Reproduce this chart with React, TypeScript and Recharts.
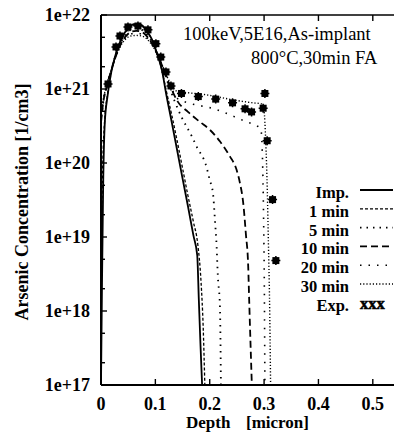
import React from "react";
import { LineChart, Line, XAxis, YAxis } from "recharts";

type Pt = { d: number; c: number };

// depth [micron] vs arsenic concentration [1/cm3]
const imp: Pt[] = [
  { d: 0.0, c: 1.0e17 }, { d: 0.002, c: 3.0e18 }, { d: 0.004, c: 5.0e19 },
  { d: 0.007, c: 3.5e20 }, { d: 0.012, c: 8.0e20 }, { d: 0.019, c: 1.7e21 },
  { d: 0.025, c: 2.6e21 }, { d: 0.031, c: 3.6e21 }, { d: 0.04, c: 5.2e21 },
  { d: 0.05, c: 6.6e21 }, { d: 0.06, c: 7.5e21 }, { d: 0.068, c: 7.6e21 },
  { d: 0.076, c: 7.2e21 }, { d: 0.085, c: 6.0e21 }, { d: 0.093, c: 4.8e21 },
  { d: 0.1, c: 3.5e21 }, { d: 0.106, c: 2.6e21 }, { d: 0.112, c: 1.8e21 },
  { d: 0.12, c: 8.5e20 }, { d: 0.13, c: 3.6e20 }, { d: 0.14, c: 1.5e20 },
  { d: 0.15, c: 6.2e19 }, { d: 0.16, c: 2.6e19 }, { d: 0.17, c: 1.05e19 },
  { d: 0.177, c: 5.7e18 }, { d: 0.18, c: 1.4e18 }, { d: 0.183, c: 3.5e17 },
  { d: 0.186, c: 1.0e17 },
];

const min1: Pt[] = [
  { d: 0.0, c: 2.0e18 }, { d: 0.003, c: 8.0e19 }, { d: 0.007, c: 4.0e20 },
  { d: 0.012, c: 8.5e20 }, { d: 0.019, c: 1.7e21 }, { d: 0.025, c: 2.6e21 },
  { d: 0.031, c: 3.6e21 }, { d: 0.04, c: 5.2e21 }, { d: 0.05, c: 6.5e21 },
  { d: 0.06, c: 7.3e21 }, { d: 0.068, c: 7.4e21 }, { d: 0.076, c: 7.0e21 },
  { d: 0.085, c: 5.9e21 }, { d: 0.093, c: 4.7e21 }, { d: 0.1, c: 3.5e21 },
  { d: 0.106, c: 2.6e21 }, { d: 0.112, c: 1.8e21 }, { d: 0.12, c: 9.5e20 },
  { d: 0.13, c: 4.5e20 }, { d: 0.14, c: 2.0e20 }, { d: 0.15, c: 8.5e19 },
  { d: 0.16, c: 3.6e19 }, { d: 0.17, c: 1.6e19 }, { d: 0.178, c: 8.0e18 },
  { d: 0.184, c: 2.5e18 }, { d: 0.188, c: 6.0e17 }, { d: 0.191, c: 1.0e17 },
];

const min5: Pt[] = [
  { d: 0.0, c: 3.5e20 }, { d: 0.004, c: 6.5e20 }, { d: 0.01, c: 1.05e21 },
  { d: 0.018, c: 1.7e21 }, { d: 0.026, c: 2.7e21 }, { d: 0.035, c: 4.0e21 },
  { d: 0.045, c: 5.4e21 }, { d: 0.055, c: 6.3e21 }, { d: 0.065, c: 6.6e21 },
  { d: 0.075, c: 6.3e21 }, { d: 0.085, c: 5.4e21 }, { d: 0.095, c: 4.1e21 },
  { d: 0.105, c: 2.8e21 }, { d: 0.115, c: 1.8e21 }, { d: 0.125, c: 1.1e21 },
  { d: 0.135, c: 7.0e20 }, { d: 0.148, c: 4.2e20 }, { d: 0.167, c: 2.3e20 },
  { d: 0.176, c: 1.66e20 }, { d: 0.194, c: 8.9e19 }, { d: 0.2, c: 5.9e19 },
  { d: 0.206, c: 3.9e19 }, { d: 0.2096, c: 1.7e19 }, { d: 0.2127, c: 7.4e18 },
  { d: 0.215, c: 2.9e18 }, { d: 0.2188, c: 1.15e18 }, { d: 0.2206, c: 1.0e17 },
];

const min10: Pt[] = [
  { d: 0.0, c: 3.5e20 }, { d: 0.004, c: 6.5e20 }, { d: 0.01, c: 1.05e21 },
  { d: 0.018, c: 1.7e21 }, { d: 0.026, c: 2.6e21 }, { d: 0.035, c: 3.9e21 },
  { d: 0.045, c: 5.1e21 }, { d: 0.055, c: 5.9e21 }, { d: 0.065, c: 6.1e21 },
  { d: 0.075, c: 5.9e21 }, { d: 0.085, c: 5.1e21 }, { d: 0.095, c: 4.0e21 },
  { d: 0.105, c: 2.8e21 }, { d: 0.115, c: 1.85e21 }, { d: 0.125, c: 1.2e21 },
  { d: 0.1415, c: 6.7e20 }, { d: 0.16, c: 4.9e20 }, { d: 0.182, c: 3.6e20 },
  { d: 0.2004, c: 2.8e20 }, { d: 0.219, c: 1.95e20 }, { d: 0.237, c: 1.23e20 },
  { d: 0.2494, c: 8.1e19 }, { d: 0.2555, c: 5.4e19 }, { d: 0.2616, c: 2.9e19 },
  { d: 0.2665, c: 1.1e19 }, { d: 0.2708, c: 4.0e18 }, { d: 0.2726, c: 1.4e18 },
  { d: 0.2775, c: 1.0e17 },
];

const min20: Pt[] = [
  { d: 0.0, c: 3.8e20 }, { d: 0.004, c: 6.8e20 }, { d: 0.01, c: 1.05e21 },
  { d: 0.018, c: 1.7e21 }, { d: 0.026, c: 2.6e21 }, { d: 0.035, c: 3.8e21 },
  { d: 0.045, c: 4.9e21 }, { d: 0.055, c: 5.5e21 }, { d: 0.065, c: 5.7e21 },
  { d: 0.075, c: 5.5e21 }, { d: 0.085, c: 4.9e21 }, { d: 0.095, c: 3.9e21 },
  { d: 0.105, c: 2.8e21 }, { d: 0.115, c: 1.9e21 }, { d: 0.125, c: 1.25e21 },
  { d: 0.14, c: 7.5e20 }, { d: 0.16, c: 6.5e20 }, { d: 0.18, c: 6.0e20 },
  { d: 0.2, c: 5.6e20 }, { d: 0.224, c: 4.9e20 }, { d: 0.246, c: 4.2e20 },
  { d: 0.268, c: 3.6e20 }, { d: 0.286, c: 3.2e20 }, { d: 0.294, c: 2.9e20 },
  { d: 0.297, c: 1.2e20 }, { d: 0.299, c: 2.0e19 }, { d: 0.3005, c: 2.0e18 },
  { d: 0.3015, c: 1.0e17 },
];

const min30: Pt[] = [
  { d: 0.0, c: 4.0e20 }, { d: 0.004, c: 7.0e20 }, { d: 0.01, c: 1.1e21 },
  { d: 0.018, c: 1.7e21 }, { d: 0.026, c: 2.6e21 }, { d: 0.035, c: 3.7e21 },
  { d: 0.045, c: 4.7e21 }, { d: 0.055, c: 5.2e21 }, { d: 0.065, c: 5.3e21 },
  { d: 0.075, c: 5.2e21 }, { d: 0.085, c: 4.7e21 }, { d: 0.095, c: 3.8e21 },
  { d: 0.105, c: 2.8e21 }, { d: 0.115, c: 1.9e21 }, { d: 0.125, c: 1.3e21 },
  { d: 0.14, c: 9.3e20 }, { d: 0.16, c: 8.9e20 }, { d: 0.18, c: 8.6e20 },
  { d: 0.2, c: 8.2e20 }, { d: 0.22, c: 7.7e20 }, { d: 0.24, c: 7.2e20 },
  { d: 0.26, c: 6.8e20 }, { d: 0.28, c: 6.5e20 }, { d: 0.295, c: 6.3e20 },
  { d: 0.3, c: 5.0e20 }, { d: 0.303, c: 2.0e20 }, { d: 0.306, c: 4.0e19 },
  { d: 0.308, c: 8.0e18 }, { d: 0.31, c: 1.5e18 }, { d: 0.312, c: 1.0e17 },
];

const expPts: Pt[] = [
  { d: 0.0129, c: 1.17e21 }, { d: 0.0276, c: 3.7e21 }, { d: 0.0349, c: 5.2e21 },
  { d: 0.0496, c: 6.9e21 }, { d: 0.068, c: 7.1e21 }, { d: 0.0864, c: 6.3e21 },
  { d: 0.101, c: 4.1e21 }, { d: 0.11, c: 2.7e21 }, { d: 0.1195, c: 1.7e21 },
  { d: 0.1287, c: 1.1e21 }, { d: 0.148, c: 8.7e20 }, { d: 0.179, c: 7.9e20 },
  { d: 0.211, c: 7.3e20 }, { d: 0.242, c: 6.5e20 }, { d: 0.265, c: 5.4e20 },
  { d: 0.277, c: 4.9e20 }, { d: 0.2983, c: 5.5e20 }, { d: 0.3015, c: 8.7e20 },
  { d: 0.3057, c: 2.0e20 }, { d: 0.3156, c: 3.2e19 }, { d: 0.3217, c: 4.8e18 },
];

const xTicks = [0, 0.1, 0.2, 0.3, 0.4, 0.5];
const topTicks = [0.1, 0.2, 0.3, 0.4, 0.5];
const yTicks = [
  1e17, 2e17, 5e17, 1e18, 2e18, 5e18, 1e19, 2e19, 5e19,
  1e20, 2e20, 5e20, 1e21, 2e21, 5e21, 1e22,
];

const series = [
  { name: "Imp.", data: imp, dash: undefined as string | undefined, w: 1.8 },
  { name: "1 min", data: min1, dash: "3 2", w: 1.3 },
  { name: "5 min", data: min5, dash: "1.5 5", w: 1.8 },
  { name: "10 min", data: min10, dash: "7 4", w: 1.8 },
  { name: "20 min", data: min20, dash: "1.5 7", w: 1.6 },
  { name: "30 min", data: min30, dash: "1.2 2", w: 1.4 },
];

const FONT = "'Liberation Serif', 'Times New Roman', serif";

const LeftTick = (p: any) => {
  const { x, y, payload } = p;
  const v = payload.value as number;
  const e = Math.round(Math.log10(v));
  const major = Math.abs(v / Math.pow(10, e) - 1) < 1e-6;
  return (
    <g>
      <line x1={x} y1={y} x2={x + (major ? 6 : 4)} y2={y} stroke="#000" strokeWidth={1.4} />
      {major && (
        <text x={x - 11} y={y + 6} textAnchor="end" fontFamily={FONT} fontWeight="bold" fontSize={18} fill="#000">
          {`1e+${e}`}
        </text>
      )}
    </g>
  );
};

const BottomTick = (p: any) => {
  const { x, y, payload } = p;
  return (
    <g>
      <line x1={x} y1={y} x2={x} y2={y - 6} stroke="#000" strokeWidth={1.4} />
      <text x={x} y={y + 25} textAnchor="middle" fontFamily={FONT} fontWeight="bold" fontSize={18} fill="#000">
        {String(payload.value)}
      </text>
    </g>
  );
};

const TopTick = (p: any) => {
  const { x, y } = p;
  return <line x1={x} y1={y} x2={x} y2={y + 6} stroke="#000" strokeWidth={1.4} />;
};

const ExpDot = (p: any) => {
  const { cx, cy, index } = p;
  if (cx == null || cy == null) return <g key={`e${index}`} />;
  return (
    <g key={`e${index}`}>
      <rect x={cx - 3.5} y={cy - 3.5} width={7} height={7} fill="#000" />
      <path
        d={`M${cx - 4.5} ${cy}H${cx + 4.5}M${cx} ${cy - 4.5}V${cy + 4.5}`}
        stroke="#000"
        strokeWidth={1.5}
      />
    </g>
  );
};

export default function App() {
  const legendTop = 198;
  const legendStep = 18.8;
  return (
    <div style={{ position: "absolute", left: 0, top: 0, width: 394, height: 438, background: "#fff", overflow: "hidden" }}>
      <LineChart width={394} height={438} margin={{ top: 0, right: 0, bottom: 0, left: 0 }}>
        <XAxis
          dataKey="d"
          type="number"
          domain={[0, 0.539]}
          ticks={xTicks}
          allowDataOverflow
          height={53}
          tickSize={0}
          tickMargin={0}
          tick={BottomTick}
          axisLine={{ stroke: "#000", strokeWidth: 2 }}
          tickLine={false}
        />
        <XAxis
          xAxisId="top"
          orientation="top"
          dataKey="d"
          type="number"
          domain={[0, 0.539]}
          ticks={topTicks}
          allowDataOverflow
          height={15}
          tickSize={0}
          tickMargin={0}
          tick={TopTick}
          axisLine={{ stroke: "#000", strokeWidth: 1.5 }}
          tickLine={false}
        />
        <YAxis
          dataKey="c"
          scale="log"
          domain={[1e17, 1e22]}
          ticks={yTicks}
          allowDataOverflow
          width={101}
          tickSize={0}
          tickMargin={0}
          tick={LeftTick}
          axisLine={{ stroke: "#000", strokeWidth: 2 }}
          tickLine={false}
          interval={0}
        />
        {series.map((s) => (
          <Line
            key={s.name}
            data={s.data}
            dataKey="c"
            type="monotone"
            stroke="#000"
            strokeWidth={s.w}
            strokeDasharray={s.dash}
            dot={false}
            activeDot={false}
            isAnimationActive={false}
          />
        ))}
        <Line
          data={expPts}
          dataKey="c"
          stroke="none"
          dot={ExpDot}
          activeDot={false}
          isAnimationActive={false}
        />
      </LineChart>
      <svg width={394} height={438} style={{ position: "absolute", left: 0, top: 0, pointerEvents: "none" }}>
        <g fontFamily={FONT} fill="#000">
          <text x={183} y={40} fontSize={18.5}>100keV,5E16,As-implant</text>
          <text x={251} y={64} fontSize={18.5}>800°C,30min FA</text>
          <text x={186} y={428} fontSize={17} fontWeight="bold">Depth</text>
          <text x={246} y={428} fontSize={17} fontWeight="bold">[micron]</text>
          <text
            x={28}
            y={202}
            fontSize={18}
            fontWeight="bold"
            textAnchor="middle"
            transform="rotate(-90 28 202)"
          >
            Arsenic Concentration [1/cm3]
          </text>
          {series.map((s, i) => {
            const by = legendTop + i * legendStep;
            return (
              <g key={s.name}>
                <text x={349} y={by} textAnchor="end" fontSize={16.5} fontWeight="bold">{s.name}</text>
                <line x1={360} y1={by - 8} x2={393} y2={by - 8} stroke="#000" strokeWidth={s.w} strokeDasharray={s.dash} />
              </g>
            );
          })}
          <text x={349} y={legendTop + 6 * legendStep} textAnchor="end" fontSize={16.5} fontWeight="bold">Exp.</text>
          <text x={360} y={legendTop + 6 * legendStep - 2} fontSize={16.5} fontWeight="bold" stroke="#000" strokeWidth={0.6}>xxx</text>
        </g>
      </svg>
    </div>
  );
}
